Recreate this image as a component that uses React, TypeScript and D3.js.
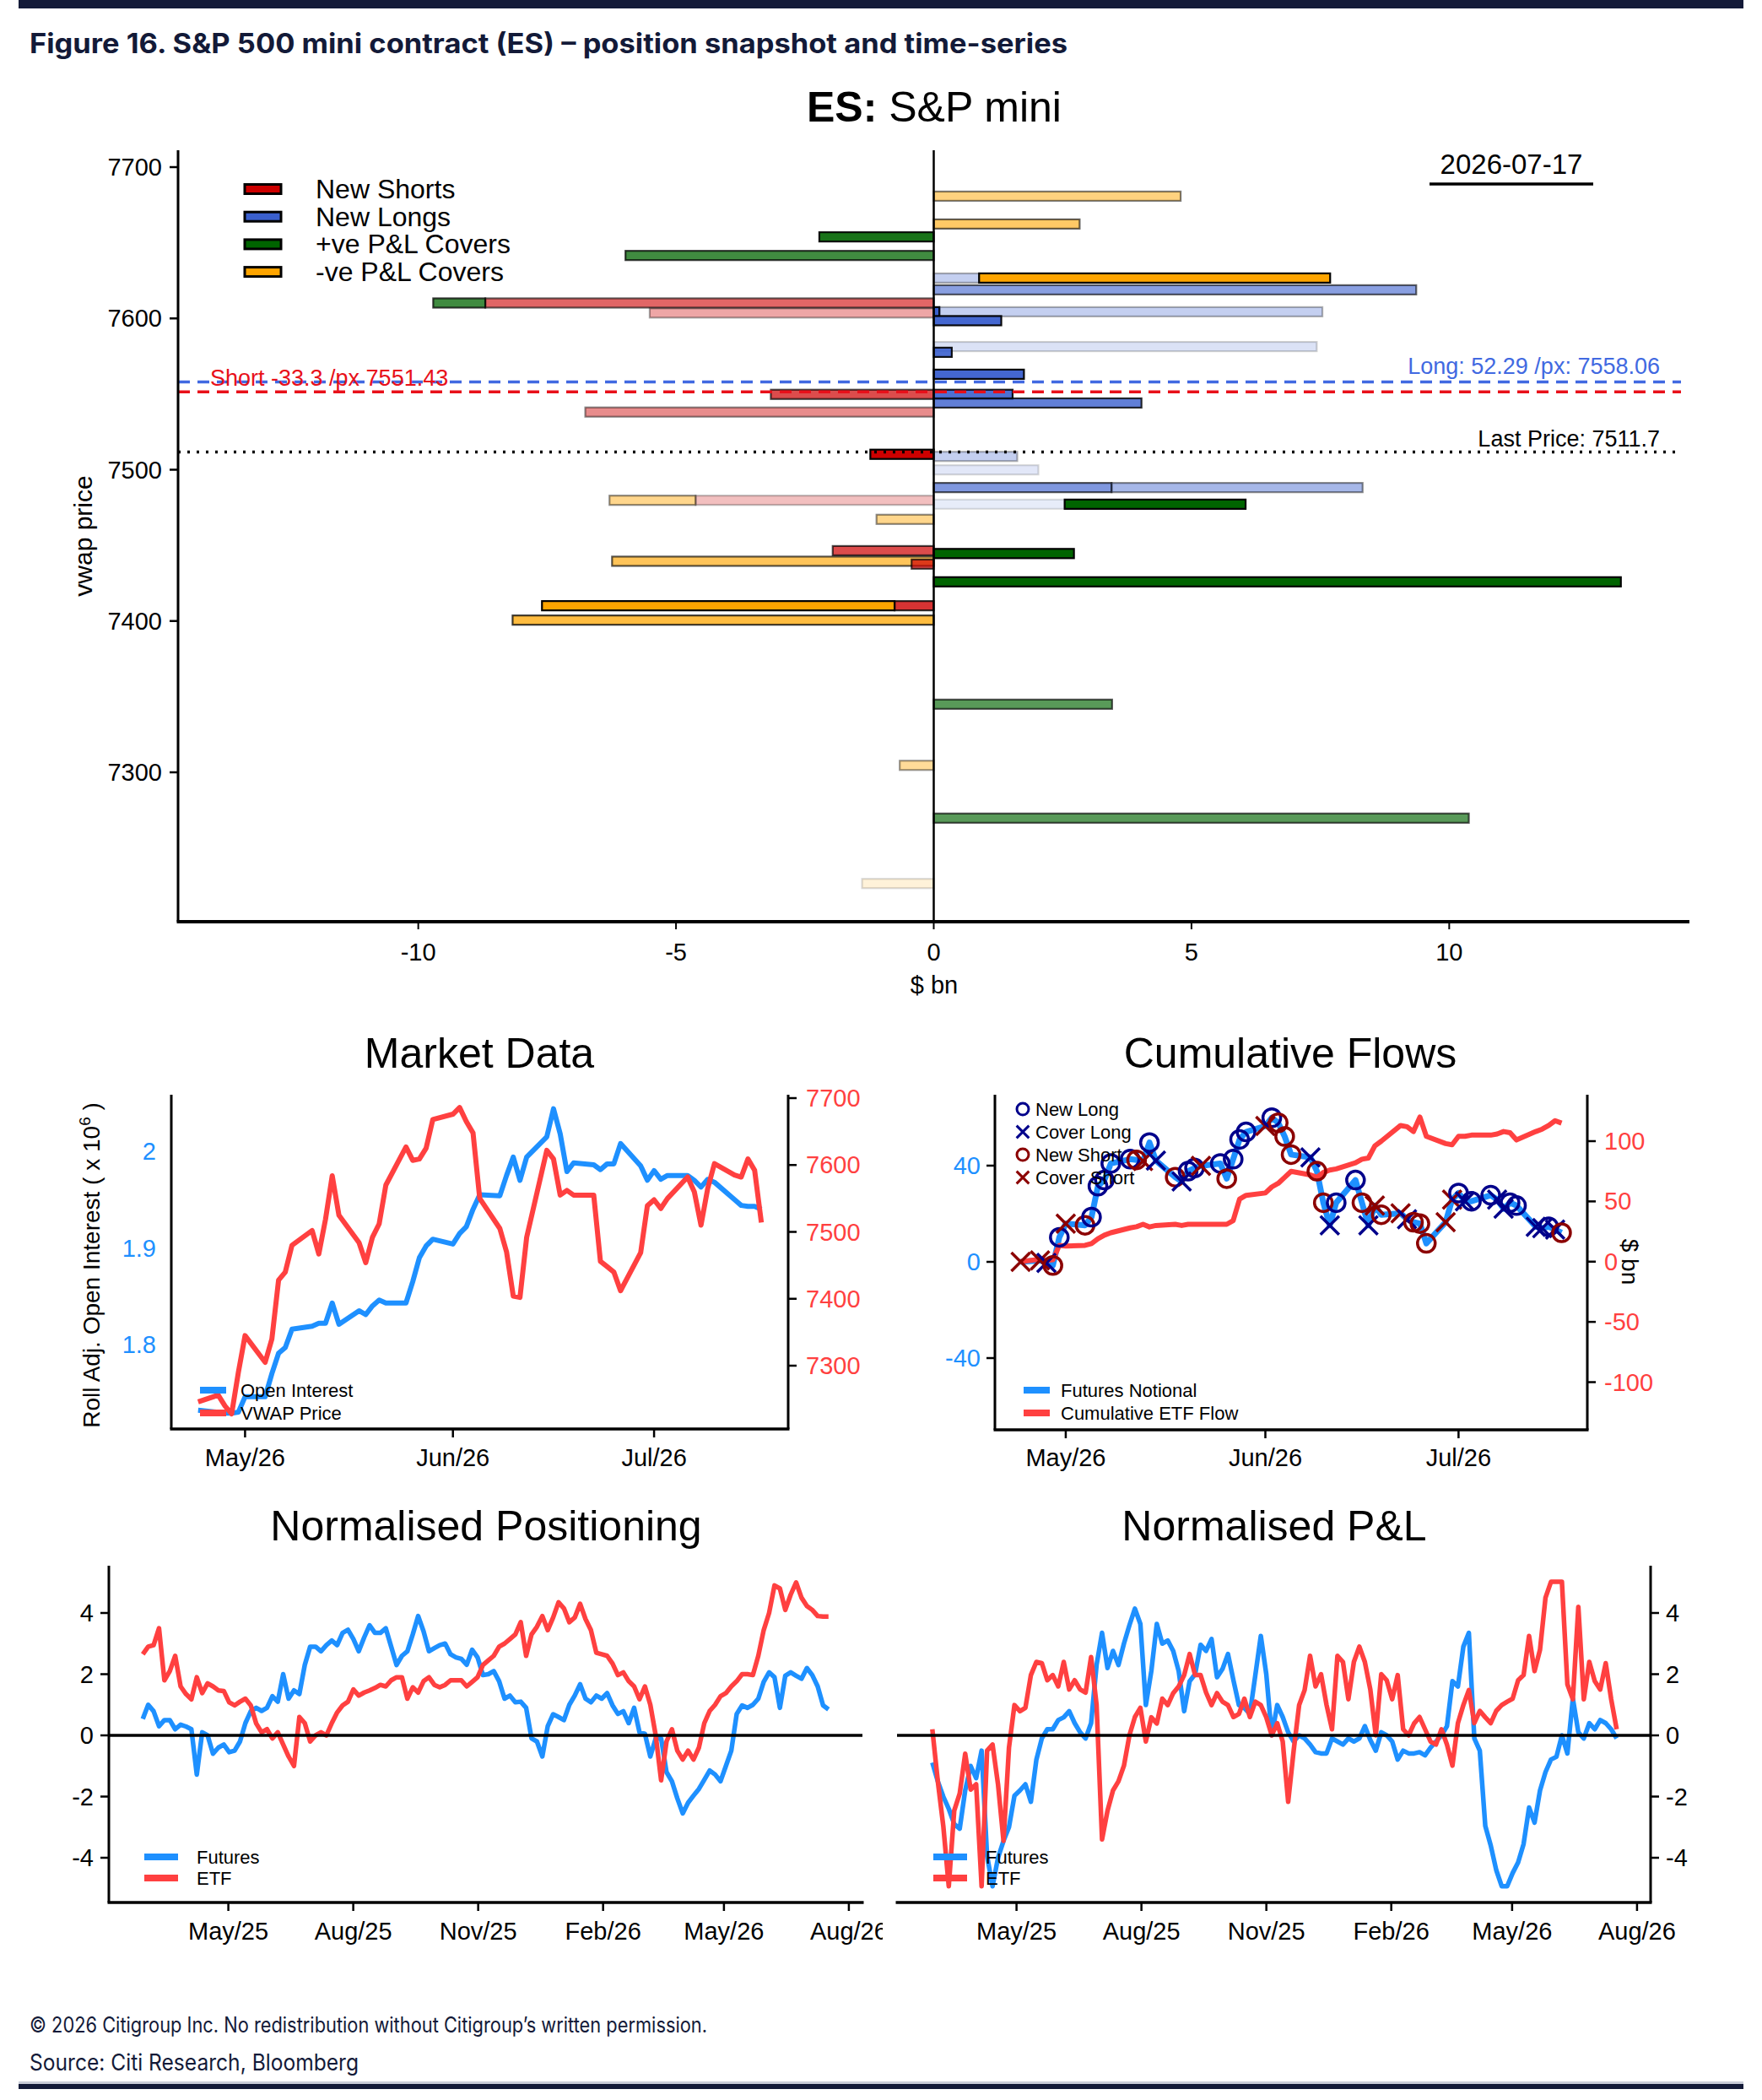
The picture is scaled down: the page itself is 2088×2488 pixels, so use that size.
import React from 'react';
import * as d3 from 'd3';

const FONT = '"Liberation Sans", Arial, Helvetica, sans-serif';
const BRAND = 'Inter, "Noto Sans", sans-serif';
const INK = '#131a38';
const OI_BLUE = '#1E90FF';
const PX_RED = '#FF4040';
const NAVY = '#00008B';
const DARK_RED = '#8B0000';

const parseDay = d3.timeParse('%Y-%m-%d');
const fmtMonth = d3.timeFormat('%b/%y');

// ---------- position snapshot (stacked per price, from zero outward) ----------
const kindKeys = ['NS', 'NL', 'PC', 'NC'];
const kindLabels = ['New Shorts', 'New Longs', '+ve P&L Covers', '-ve P&L Covers'];
const kindColors = ['#CD0000', '#3A5FCD', '#006400', '#FFA500'];

const snapPrice = [
  7680.8, 7662.4, 7653.9, 7641.6, 7626.7, 7626.7, 7618.9, 7610.2, 7610.2, 7603.6,
  7604.4, 7604.4, 7598.5, 7581.4, 7577.6, 7563.1, 7549.8, 7549.8, 7544.1, 7538.1,
  7510.2, 7508.8, 7499.9, 7488.2, 7488.2, 7479.8, 7479.8, 7477.2, 7477.2, 7467.2,
  7446.5, 7444.6, 7439.5, 7437.6, 7425.9, 7410.1, 7410.1, 7400.6, 7345.0, 7304.6,
  7269.7, 7226.5,
];
const snapKind = [
  'NC', 'NC', 'PC', 'PC', 'NL', 'NC', 'NL', 'NS', 'PC', 'NS',
  'NL', 'NL', 'NL', 'NL', 'NL', 'NL', 'NS', 'NL', 'NL', 'NS',
  'NS', 'NL', 'NL', 'NL', 'NL', 'NS', 'NC', 'NL', 'PC', 'NC',
  'NS', 'PC', 'NC', 'NS', 'PC', 'NS', 'NC', 'NC', 'PC', 'NC',
  'PC', 'NC',
];
const snapSize = [
  4.79, 2.83, -2.22, -5.98, 0.88, 6.81, 9.36, -8.7, -1.01, -5.51,
  0.11, 7.43, 1.31, 7.43, 0.35, 1.75, -3.16, 1.53, 4.03, -6.76,
  -1.23, 1.62, 2.03, 3.45, 4.87, -4.62, -1.67, 2.54, 3.51, -1.11,
  -1.96, 2.72, -6.24, -0.43, 13.33, -0.76, -6.84, -8.17, 3.46, -0.66,
  10.38, -1.39,
];
// fade by age of the position
const snapAge = [
  0.5, 0.6, 0.9, 0.75, 0.3, 1, 0.6, 0.6, 0.75, 0.35,
  1, 0.3, 0.95, 0.18, 0.9, 0.95, 0.7, 0.9, 0.8, 0.45,
  1, 0.3, 0.15, 0.65, 0.45, 0.25, 0.45, 0.12, 1, 0.45,
  0.7, 1, 0.65, 0.7, 1, 0.8, 1, 0.75, 0.65, 0.4,
  0.65, 0.15,
];
const snapPriceTicks = [7300, 7400, 7500, 7600, 7700];
const snapFlowTicks = [-10, -5, 0, 5, 10];
const longAvg = { size: 52.29, px: 7558.06 };
const shortAvg = { size: -33.3, px: 7551.43 };
const lastPrice = 7511.7;
const snapDate = '2026-07-17';

// ---------- daily sessions ----------
const sessionDates = d3.timeDay
  .range(parseDay('2026-04-24')!, parseDay('2026-07-18')!)
  .filter((d) => d.getDay() !== 0 && d.getDay() !== 6);

const mdOpenInterest = [
  1.732, 1.73, 1.729, 1.729, 1.73,
  1.746, 1.746, 1.77, 1.791, 1.797, 1.816, 1.819, 1.822, 1.822, 1.843, 1.821, 1.835, 1.831, 1.84, 1.846, 1.843, 1.843, 1.865, 1.89, 1.902, 1.909,
  1.904, 1.915, 1.922, 1.94, 1.955, 1.954, 1.975, 1.994, 1.97, 1.994, 2.015, 2.044, 2.018, 1.979, 1.988, 1.986, 1.981, 1.987, 1.987, 2.008, 1.985, 1.97,
  1.98, 1.971, 1.975, 1.975, 1.97, 1.963, 1.971, 1.968, 1.95, 1.944, 1.943, 1.943, 1.94,
];
const mdVwap = [
  7246, 7256, 7240, 7228, 7290,
  7345, 7305, 7340, 7428, 7440, 7480, 7502, 7467, 7519, 7584, 7525, 7484, 7454, 7492, 7512, 7570, 7627, 7607, 7609, 7625, 7668,
  7676, 7686, 7665, 7648, 7550, 7505, 7470, 7404, 7402, 7492, 7622, 7609, 7555, 7562, 7555, 7555, 7456, 7448, 7440, 7412, 7469, 7539,
  7548, 7535, 7550, 7582, 7560, 7510, 7565, 7602, 7585, 7582, 7609, 7592, 7514,
];
const mdTicks = ['2026-05-01', '2026-06-01', '2026-07-01'];

const cfFutures = [
  0, 0.6, -0.4, -1.5, 10.2,
  15.9, 15.2, 18.6, 31.5, 34, 40.9, 42.7, 42.4, 41.9, 49.6, 42.1, 35.2, 33.4, 37.7, 39, 39.9, 40.9, 34.6, 42.7, 50.9, 54,
  56.5, 59.9, 57.8, 52.1, 44.6, 43.4, 37.7, 24.6, 15.2, 24.6, 34, 24.6, 15.2, 23.4, 19.6, 20.2, 17.7, 16.5, 15.9, 7.7, 16.5, 25.9,
  28.6, 25.2, 25.2, 27.7, 25.9, 22.1, 24.6, 23.4, 14.6, 14, 14.6, 13.4, 12.1,
];
const cfAction = [
  'CS', 'CS', 'CL', 'NS', 'NL',
  'CS', 'NS', 'NL', 'NL', 'NL', 'NL', 'NL', 'NS', 'CS', 'NL', 'CL', 'NS', 'CL', 'NL', 'NL', 'CS', 'NL', 'NS', 'NL', 'NL', 'NL',
  'CS', 'NL', 'NS', 'NS', 'NS', 'CL', 'NS', 'NS', 'CL', 'NL', 'NL', 'NS', 'CL', 'CS', 'NS', 'CS', 'CL', 'NS', 'NS', 'NS', 'CS', 'CS',
  'NL', 'CL', 'NL', 'NL', 'CL', 'CL', 'NL', 'NL', 'CL', 'CL', 'NL', 'CL', 'NS',
];
const cfEtf = [
  0, 2, 1, 1.5, 13.5,
  13, 13.5, 15, 19, 22, 24, 28, 29, 31, 28.8, 30, 31, 30, 31, 31, 31, 31, 31, 34, 52, 55,
  57, 62, 65, 70, 75, 72, 70, 74, 76, 77, 82, 85, 86, 96, 100, 113, 112, 108, 120, 104, 98, 97,
  104, 104, 105, 105, 106, 108, 107, 101, 108, 110, 113, 117, 115,
];
const cfLegend = [
  { key: 'NL', label: 'New Long' },
  { key: 'CL', label: 'Cover Long' },
  { key: 'NS', label: 'New Short' },
  { key: 'CS', label: 'Cover Short' },
];

// ---------- normalised series (even sampling across the window) ----------
const posStart = '2025-02-27';
const posEnd = '2026-07-17';
const posFutures = [
  0.54, 1.0, 0.79, 0.3, 0.5, 0.5, 0.2, 0.35, 0.29, 0.2,
  -1.28, 0.1, 0.0, -0.6, -0.4, -0.3, -0.55, -0.5, -0.2, 0.4,
  0.79, 0.9, 0.8, 0.9, 1.28, 1.1, 2.0, 1.2, 1.47, 1.35,
  2.3, 2.9, 2.9, 2.75, 2.95, 3.1, 2.95, 3.35, 3.45, 3.15,
  2.75, 3.2, 3.6, 3.35, 3.35, 3.5, 2.9, 2.3, 2.6, 2.75,
  3.3, 3.9, 3.4, 2.75, 2.85, 2.95, 3.0, 2.65, 2.55, 2.5,
  2.31, 2.8, 2.55, 1.97, 2.0, 2.1, 1.77, 1.2, 1.3, 1.08,
  1.1, 0.9, -0.1, -0.2, -0.69, 0.3, 0.69, 0.6, 0.5, 1.0,
  1.3, 1.67, 1.2, 1.08, 1.3, 1.2, 1.38, 0.98, 0.7, 0.79,
  0.4, 0.9, 0.1, 0.05, -0.69, -0.1, -0.1, -1.2, -1.5, -2.06,
  -2.55, -2.2, -1.97, -1.75, -1.45, -1.15, -1.28, -1.5, -1.0, -0.5,
  0.7, 0.98, 0.9, 1.0, 1.2, 1.75, 2.06, 1.9, 0.9, 1.95,
  2.06, 1.95, 1.85, 2.2, 1.97, 1.6, 0.98, 0.85,
];
const posEtf = [
  2.65, 2.9, 2.95, 3.5, 1.8, 2.1, 2.6, 1.6, 1.35, 1.18,
  1.9, 1.38, 1.7, 1.6, 1.47, 1.45, 1.08, 0.98, 1.1, 1.2,
  0.98, 0.39, 0.1, 0.2, -0.1, 0.1, -0.3, -0.69, -1.0, 0.6,
  0.4, -0.2, 0.0, 0.1, 0.0, 0.4, 0.75, 0.98, 1.1, 1.5,
  1.3, 1.4, 1.47, 1.55, 1.65, 1.6, 1.8, 1.9, 1.9, 1.2,
  1.57, 1.4, 1.77, 1.9, 1.65, 1.57, 1.65, 1.8, 1.8, 1.8,
  1.6, 1.75, 1.9, 2.3, 2.45, 2.6, 2.9, 3.0, 3.15, 3.3,
  3.7, 2.6, 3.3, 3.55, 3.9, 3.44, 3.85, 4.35, 4.15, 3.7,
  3.85, 4.3, 3.8, 3.44, 2.7, 2.65, 2.6, 2.35, 1.97, 2.06,
  1.77, 1.6, 1.18, 1.6, 1.0, 0.0, -1.47, -0.2, 0.2, -0.5,
  -0.79, -0.5, -0.79, -0.4, 0.4, 0.8, 1.0, 1.28, 1.38, 1.6,
  1.77, 2.0, 2.0, 1.97, 2.6, 3.44, 4.0, 4.9, 4.8, 4.1,
  4.6, 5.0, 4.5, 4.23, 4.1, 3.9, 3.88, 3.88,
];
const pnlStart = '2025-02-28';
const pnlEnd = '2026-07-17';
const pnlFutures = [
  -0.89, -1.5, -2.0, -2.4, -2.9, -3.05, -1.8, -1.0, -1.4, -0.5,
  -3.94, -4.93, -4.0, -3.45, -3.0, -1.97, -1.8, -1.6, -2.17, -0.8,
  -0.1, 0.2, 0.2, 0.5, 0.59, 0.79, 0.4, 0.1, -0.1, 0.4,
  2.3, 3.35, 2.2, 2.76, 2.3, 3.0, 3.6, 4.14, 3.64, 0.99,
  2.1, 3.64, 3.0, 3.1, 2.76, 2.1, 0.79, 1.77, 2.0, 2.96,
  2.76, 3.15, 1.9, 2.17, 2.66, 1.8, 0.99, 0.89, 0.7, 1.97,
  3.25, 2.0, 0.0, 0.99, 0.6, 0.1, -0.2, 0.0, -0.1, -0.3,
  -0.55, -0.59, -0.59, -0.1, -0.2, -0.3, -0.1, -0.2, -0.1, 0.3,
  -0.15, -0.5, 0.1, 0.0, -0.2, -0.79, -0.5, -0.59, -0.59, -0.55,
  -0.65, -0.4, -0.2, 0.0, 0.3, 1.77, 1.6, 2.9, 3.35, -0.1,
  -0.5, -2.96, -3.6, -4.4, -4.93, -4.93, -4.5, -4.15, -3.55, -2.36,
  -2.85, -1.8, -1.2, -0.79, -0.7, 0.0, -0.59, 1.2, 0.1, -0.1,
  0.4, 0.2, 0.5, 0.4, 0.2, -0.1,
];
const pnlEtf = [
  0.2, -1.5, -2.96, -4.93, -2.46, -1.9, -0.6, -1.77, -1.6, -4.93,
  -0.5, -0.3, -1.6, -3.45, -0.4, 0.99, 0.79, 0.9, 1.97, 2.4,
  2.36, 1.8, 1.97, 1.6, 2.4, 1.5, 1.8, 1.5, 1.4, 2.56,
  1.0, -3.4, -2.46, -1.8, -1.5, -0.99, 0.0, 0.6, 0.9, -0.2,
  0.59, 0.39, 1.2, 0.99, 1.38, 1.6, 1.97, 2.66, 1.97, 1.97,
  1.4, 0.99, 1.38, 1.1, 0.99, 0.6, 0.7, 1.2, 0.6, 1.1,
  0.99, 0.59, 0.0, 0.4, -0.2, -2.17, -0.5, 0.99, 1.48, 2.6,
  1.6, 2.0, 1.0, 0.2, 2.6, 2.4, 1.18, 2.4, 2.9, 2.4,
  1.5, 0.0, 2.0, 1.8, 1.18, 1.97, 0.2, 0.0, 0.39, 0.6,
  0.2, -0.2, -0.3, 0.2, -0.3, -0.99, 0.4, 0.99, 1.48, 0.4,
  0.8, 0.59, 0.4, 0.8, 0.99, 1.1, 1.2, 1.8, 1.97, 3.25,
  2.1, 2.8, 4.5, 5.02, 5.02, 5.02, 1.67, 1.18, 4.2, 1.18,
  2.4, 1.77, 1.5, 2.36, 1.18, 0.2,
];
const normTicks = ['2025-05-01', '2025-08-01', '2025-11-01', '2026-02-01', '2026-05-01', '2026-08-01'];
const normValueTicks = [-4, -2, 0, 2, 4];

function spread(start: string, end: string, n: number): Date[] {
  const t = d3.scaleLinear().domain([0, n - 1]).range([+parseDay(start)!, +parseDay(end)!]);
  return d3.range(n).map((i) => new Date(t(i)));
}

function Snapshot() {
  const x = d3.scaleLinear().domain([-14.66, 14.66]).range([211, 2002]);
  const y = d3.scaleLinear().domain([7300, 7700]).range([915, 198]);
  const top = 178;
  const bottom = 1092;
  const barH = 11;

  const acc = new Map<string, number>();
  const bars = snapPrice.map((p, i) => {
    const v = snapSize[i];
    const key = `${p}:${v < 0 ? 'L' : 'R'}`;
    const x0 = acc.get(key) ?? 0;
    const x1 = x0 + v;
    acc.set(key, x1);
    return { p, x0, x1, color: kindColors[kindKeys.indexOf(snapKind[i])], a: snapAge[i] };
  });

  return (
    <g>
      <text x={1107} y={144} textAnchor="middle" fontSize={50}>
        <tspan fontWeight="bold">ES:</tspan> S&amp;P mini
      </text>

      {bars.map((b, i) => (
        <rect
          key={i}
          x={Math.min(x(b.x0), x(b.x1))}
          y={y(b.p) - barH / 2}
          width={Math.abs(x(b.x1) - x(b.x0))}
          height={barH}
          fill={b.color}
          fillOpacity={b.a}
          stroke="#000"
          strokeOpacity={b.a}
          strokeWidth={2.2}
        />
      ))}

      <line x1={211} x2={1992} y1={y(longAvg.px)} y2={y(longAvg.px)} stroke="#4169E1" strokeWidth={3.5} strokeDasharray="14 9" />
      <line x1={211} x2={1992} y1={y(shortAvg.px)} y2={y(shortAvg.px)} stroke="#E8101A" strokeWidth={3.5} strokeDasharray="14 9" />
      <line x1={211} x2={1992} y1={y(lastPrice)} y2={y(lastPrice)} stroke="#000" strokeWidth={3.5} strokeDasharray="3 8" />

      <text x={1967} y={443} textAnchor="end" fontSize={27} fill="#4169E1">
        {`Long: ${longAvg.size} /px: ${longAvg.px}`}
      </text>
      <text x={249} y={457} fontSize={27} fill="#E8101A">
        {`Short ${shortAvg.size} /px ${shortAvg.px}`}
      </text>
      <text x={1967} y={529} textAnchor="end" fontSize={27}>
        {`Last Price: ${lastPrice}`}
      </text>

      <line x1={x(0)} x2={x(0)} y1={top} y2={bottom} stroke="#000" strokeWidth={2.5} />

      {/* axes */}
      <line x1={211} x2={211} y1={top} y2={bottom} stroke="#000" strokeWidth={3} />
      <line x1={209.5} x2={2002} y1={bottom} y2={bottom} stroke="#000" strokeWidth={4} />
      {snapPriceTicks.map((t) => (
        <g key={t}>
          <line x1={201} x2={211} y1={y(t)} y2={y(t)} stroke="#000" strokeWidth={2.5} />
          <text x={192} y={y(t) + 10} textAnchor="end" fontSize={29}>{t}</text>
        </g>
      ))}
      {snapFlowTicks.map((t) => (
        <g key={t}>
          <line x1={x(t)} x2={x(t)} y1={bottom} y2={bottom + 9} stroke="#000" strokeWidth={2} />
          <text x={x(t)} y={1138} textAnchor="middle" fontSize={29}>{t}</text>
        </g>
      ))}
      <text x={1107} y={1177} textAnchor="middle" fontSize={29}>$ bn</text>
      <text transform="translate(109,635) rotate(-90)" textAnchor="middle" fontSize={30}>vwap price</text>

      {/* legend */}
      {kindLabels.map((label, i) => {
        const cy = 224 + i * 32.7;
        return (
          <g key={label}>
            <rect x={290} y={cy - 5.5} width={43} height={11} fill={kindColors[i]} stroke="#000" strokeWidth={3} />
            <text x={374} y={cy + 11} fontSize={32}>{label}</text>
          </g>
        );
      })}

      <text x={1791} y={206} textAnchor="middle" fontSize={33}>{snapDate}</text>
      <line x1={1694} x2={1888} y1={218} y2={218} stroke="#000" strokeWidth={3.5} />
    </g>
  );
}

function MarketData() {
  const x = d3.scaleTime().domain([parseDay('2026-04-20')!, parseDay('2026-07-21')!]).range([203, 934]);
  const yL = d3.scaleLinear().domain([1.8, 2.0]).range([1593, 1364]);
  const yR = d3.scaleLinear().domain([7300, 7700]).range([1618, 1301]);
  const top = 1297;
  const bottom = 1693;
  const oiLine = d3.line<number>().x((_, i) => x(sessionDates[i])).y((d) => yL(d));
  const pxLine = d3.line<number>().x((_, i) => x(sessionDates[i])).y((d) => yR(d));

  return (
    <g>
      <text x={568} y={1265} textAnchor="middle" fontSize={50}>Market Data</text>
      <path d={oiLine(mdOpenInterest)!} fill="none" stroke={OI_BLUE} strokeWidth={6} strokeLinejoin="round" />
      <path d={pxLine(mdVwap)!} fill="none" stroke={PX_RED} strokeWidth={6} strokeLinejoin="round" />

      <line x1={203} x2={203} y1={top} y2={bottom} stroke="#000" strokeWidth={3} />
      <line x1={934} x2={934} y1={top} y2={bottom} stroke="#000" strokeWidth={3} />
      <line x1={201.5} x2={935.5} y1={bottom} y2={bottom} stroke="#000" strokeWidth={3.5} />

      {[1.8, 1.9, 2.0].map((t) => (
        <text key={t} x={185} y={yL(t) + 10} textAnchor="end" fontSize={29} fill={OI_BLUE}>{d3.format('~g')(t)}</text>
      ))}
      {[7300, 7400, 7500, 7600, 7700].map((t) => (
        <g key={t}>
          <line x1={934} x2={944} y1={yR(t)} y2={yR(t)} stroke="#000" strokeWidth={2.5} />
          <text x={955} y={yR(t) + 10} fontSize={29} fill={PX_RED}>{t}</text>
        </g>
      ))}
      {mdTicks.map((s) => {
        const d = parseDay(s)!;
        return (
          <g key={s}>
            <line x1={x(d)} x2={x(d)} y1={bottom} y2={bottom + 10} stroke="#000" strokeWidth={2.5} />
            <text x={x(d)} y={1737} textAnchor="middle" fontSize={29}>{fmtMonth(d)}</text>
          </g>
        );
      })}
      <text transform="translate(118,1499) rotate(-90)" textAnchor="middle" fontSize={28}>
        Roll Adj. Open Interest ( x 10<tspan dy={-11} fontSize={19}>6</tspan><tspan dy={11}> )</tspan>
      </text>

      <line x1={237} x2={268} y1={1647} y2={1647} stroke={OI_BLUE} strokeWidth={8} />
      <text x={285} y={1655} fontSize={22}>Open Interest</text>
      <line x1={237} x2={268} y1={1674} y2={1674} stroke={PX_RED} strokeWidth={8} />
      <text x={285} y={1682} fontSize={22}>VWAP Price</text>
    </g>
  );
}

function Marker({ kind, cx, cy, r, w }: { kind: string; cx: number; cy: number; r: number; w: number }) {
  const color = kind[1] === 'L' ? NAVY : DARK_RED;
  if (kind[0] === 'N') {
    return <circle cx={cx} cy={cy} r={r} fill="none" stroke={color} strokeWidth={w} />;
  }
  const h = r * 1.05;
  return (
    <path
      d={`M${cx - h},${cy - h}L${cx + h},${cy + h}M${cx - h},${cy + h}L${cx + h},${cy - h}`}
      stroke={color}
      strokeWidth={w}
      fill="none"
    />
  );
}

function CumFlows() {
  const x = d3.scaleTime().domain([parseDay('2026-04-20')!, parseDay('2026-07-21')!]).range([1179, 1881]);
  const yL = d3.scaleLinear().domain([-40, 40]).range([1609, 1381]);
  const yR = d3.scaleLinear().domain([-100, 100]).range([1637.5, 1352]);
  const top = 1297;
  const bottom = 1694;
  const futLine = d3.line<number>().x((_, i) => x(sessionDates[i])).y((d) => yL(d));
  const etfLine = d3.line<number>().x((_, i) => x(sessionDates[i])).y((d) => yR(d));

  return (
    <g>
      <text x={1529} y={1265} textAnchor="middle" fontSize={50}>Cumulative Flows</text>
      <path d={futLine(cfFutures)!} fill="none" stroke={OI_BLUE} strokeWidth={7} strokeLinejoin="round" />
      <path d={etfLine(cfEtf)!} fill="none" stroke={PX_RED} strokeWidth={6} strokeLinejoin="round" />
      {cfFutures.map((v, i) => (
        <Marker key={i} kind={cfAction[i]} cx={x(sessionDates[i])} cy={yL(v)} r={10.5} w={3.5} />
      ))}

      <line x1={1179} x2={1179} y1={top} y2={bottom} stroke="#000" strokeWidth={3} />
      <line x1={1881} x2={1881} y1={top} y2={bottom} stroke="#000" strokeWidth={3} />
      <line x1={1177.5} x2={1882.5} y1={bottom} y2={bottom} stroke="#000" strokeWidth={3.5} />

      {[-40, 0, 40].map((t) => (
        <g key={t}>
          <line x1={1169} x2={1179} y1={yL(t)} y2={yL(t)} stroke="#000" strokeWidth={2.5} />
          <text x={1162} y={yL(t) + 10} textAnchor="end" fontSize={29} fill={OI_BLUE}>{t}</text>
        </g>
      ))}
      {[-100, -50, 0, 50, 100].map((t) => (
        <g key={t}>
          <line x1={1881} x2={1891} y1={yR(t)} y2={yR(t)} stroke="#000" strokeWidth={2.5} />
          <text x={1901} y={yR(t) + 10} fontSize={29} fill={PX_RED}>{t}</text>
        </g>
      ))}
      {mdTicks.map((s) => {
        const d = parseDay(s)!;
        return (
          <g key={s}>
            <line x1={x(d)} x2={x(d)} y1={bottom} y2={bottom + 10} stroke="#000" strokeWidth={2.5} />
            <text x={x(d)} y={1737} textAnchor="middle" fontSize={29}>{fmtMonth(d)}</text>
          </g>
        );
      })}
      <text transform="translate(1922,1495) rotate(90)" textAnchor="middle" fontSize={28}>$ bn</text>

      {cfLegend.map((item, i) => {
        const cy = 1314 + i * 27;
        return (
          <g key={item.key}>
            <Marker kind={item.key} cx={1212} cy={cy} r={7} w={3} />
            <text x={1227} y={cy + 8} fontSize={22}>{item.label}</text>
          </g>
        );
      })}

      <line x1={1213} x2={1244} y1={1647} y2={1647} stroke={OI_BLUE} strokeWidth={8} />
      <text x={1257} y={1655} fontSize={22}>Futures Notional</text>
      <line x1={1213} x2={1244} y1={1674} y2={1674} stroke={PX_RED} strokeWidth={8} />
      <text x={1257} y={1682} fontSize={22}>Cumulative ETF Flow</text>
    </g>
  );
}

function NormPanel({
  title, titleX, left, right, axisSide, futures, etf, start, end, legendX, clipId,
}: {
  title: string; titleX: number; left: number; right: number; axisSide: 'left' | 'right';
  futures: number[]; etf: number[]; start: string; end: string; legendX: number; clipId?: string;
}) {
  const x = d3.scaleTime().domain([parseDay('2025-02-02')!, parseDay('2026-08-11')!]).range([left, right]);
  const y = d3.scaleLinear().domain([-4, 4]).range([2201, 1911]);
  const top = 1855;
  const bottom = 2254;
  const futDates = spread(start, end, futures.length);
  const etfDates = spread(start, end, etf.length);
  const futLine = d3.line<number>().x((_, i) => x(futDates[i])).y((d) => y(d));
  const etfLine = d3.line<number>().x((_, i) => x(etfDates[i])).y((d) => y(d));
  const axisX = axisSide === 'left' ? left : right;

  return (
    <g clipPath={clipId ? `url(#${clipId})` : undefined}>
      <text x={titleX} y={1825} textAnchor="middle" fontSize={50}>{title}</text>
      <path d={futLine(futures)!} fill="none" stroke={OI_BLUE} strokeWidth={5.5} strokeLinejoin="round" />
      <path d={etfLine(etf)!} fill="none" stroke={PX_RED} strokeWidth={5.5} strokeLinejoin="round" />
      <line x1={left} x2={right} y1={y(0)} y2={y(0)} stroke="#000" strokeWidth={3.5} />

      <line x1={axisX} x2={axisX} y1={top} y2={bottom} stroke="#000" strokeWidth={3} />
      <line x1={left - 1.5} x2={right + 1.5} y1={bottom} y2={bottom} stroke="#000" strokeWidth={3.5} />
      {normValueTicks.map((t) => (
        <g key={t}>
          {axisSide === 'left' ? (
            <>
              <line x1={axisX - 10} x2={axisX} y1={y(t)} y2={y(t)} stroke="#000" strokeWidth={2.5} />
              <text x={axisX - 18} y={y(t) + 10} textAnchor="end" fontSize={29}>{t}</text>
            </>
          ) : (
            <>
              <line x1={axisX} x2={axisX + 10} y1={y(t)} y2={y(t)} stroke="#000" strokeWidth={2.5} />
              <text x={axisX + 18} y={y(t) + 10} fontSize={29}>{t}</text>
            </>
          )}
        </g>
      ))}
      {normTicks.map((s) => {
        const d = parseDay(s)!;
        return (
          <g key={s}>
            <line x1={x(d)} x2={x(d)} y1={bottom} y2={bottom + 10} stroke="#000" strokeWidth={2.5} />
            <text x={x(d)} y={2298} textAnchor="middle" fontSize={29}>{fmtMonth(d)}</text>
          </g>
        );
      })}

      <line x1={legendX} x2={legendX + 40} y1={2200} y2={2200} stroke={OI_BLUE} strokeWidth={8} />
      <text x={legendX + 62} y={2208} fontSize={22}>Futures</text>
      <line x1={legendX} x2={legendX + 40} y1={2225} y2={2225} stroke={PX_RED} strokeWidth={8} />
      <text x={legendX + 62} y={2233} fontSize={22}>ETF</text>
    </g>
  );
}

export default function App() {
  const W = 2088;
  const H = 2488;
  return (
    <svg
      width={W}
      height={H}
      viewBox={`0 0 ${W} ${H}`}
      style={{ position: 'absolute', left: 0, top: 0, display: 'block' }}
      fontFamily={FONT}
    >
      <defs>
        <clipPath id="posClip">
          <rect x={0} y={1760} width={1046} height={600} />
        </clipPath>
      </defs>
      <rect width={W} height={H} fill="#fff" />

      <rect x={22} y={0} width={2044} height={10} fill={INK} />
      <text
        x={35}
        y={63}
        fontFamily={BRAND}
        fontWeight={700}
        fontSize={32}
        fill={INK}
        textLength={1230}
        lengthAdjust="spacingAndGlyphs"
      >
        Figure 16. S&amp;P 500 mini contract (ES) – position snapshot and time-series
      </text>

      <Snapshot />
      <MarketData />
      <CumFlows />
      <NormPanel
        title="Normalised Positioning"
        titleX={576}
        left={129}
        right={1022}
        axisSide="left"
        futures={posFutures}
        etf={posEtf}
        start={posStart}
        end={posEnd}
        legendX={171}
        clipId="posClip"
      />
      <NormPanel
        title="Normalised P&L"
        titleX={1510}
        left={1063}
        right={1956}
        axisSide="right"
        futures={pnlFutures}
        etf={pnlEtf}
        start={pnlStart}
        end={pnlEnd}
        legendX={1106}
      />

      <text x={35} y={2408} fontFamily={BRAND} fontSize={25} fill={INK} textLength={803} lengthAdjust="spacingAndGlyphs">
        © 2026 Citigroup Inc. No redistribution without Citigroup’s written permission.
      </text>
      <text x={35} y={2453} fontFamily={BRAND} fontSize={27} fill={INK} textLength={390} lengthAdjust="spacingAndGlyphs">
        Source: Citi Research, Bloomberg
      </text>
      <rect x={22} y={2466} width={2044} height={3} fill="#c9cdd8" />
      <rect x={22} y={2469} width={2044} height={6} fill={INK} />
    </svg>
  );
}
